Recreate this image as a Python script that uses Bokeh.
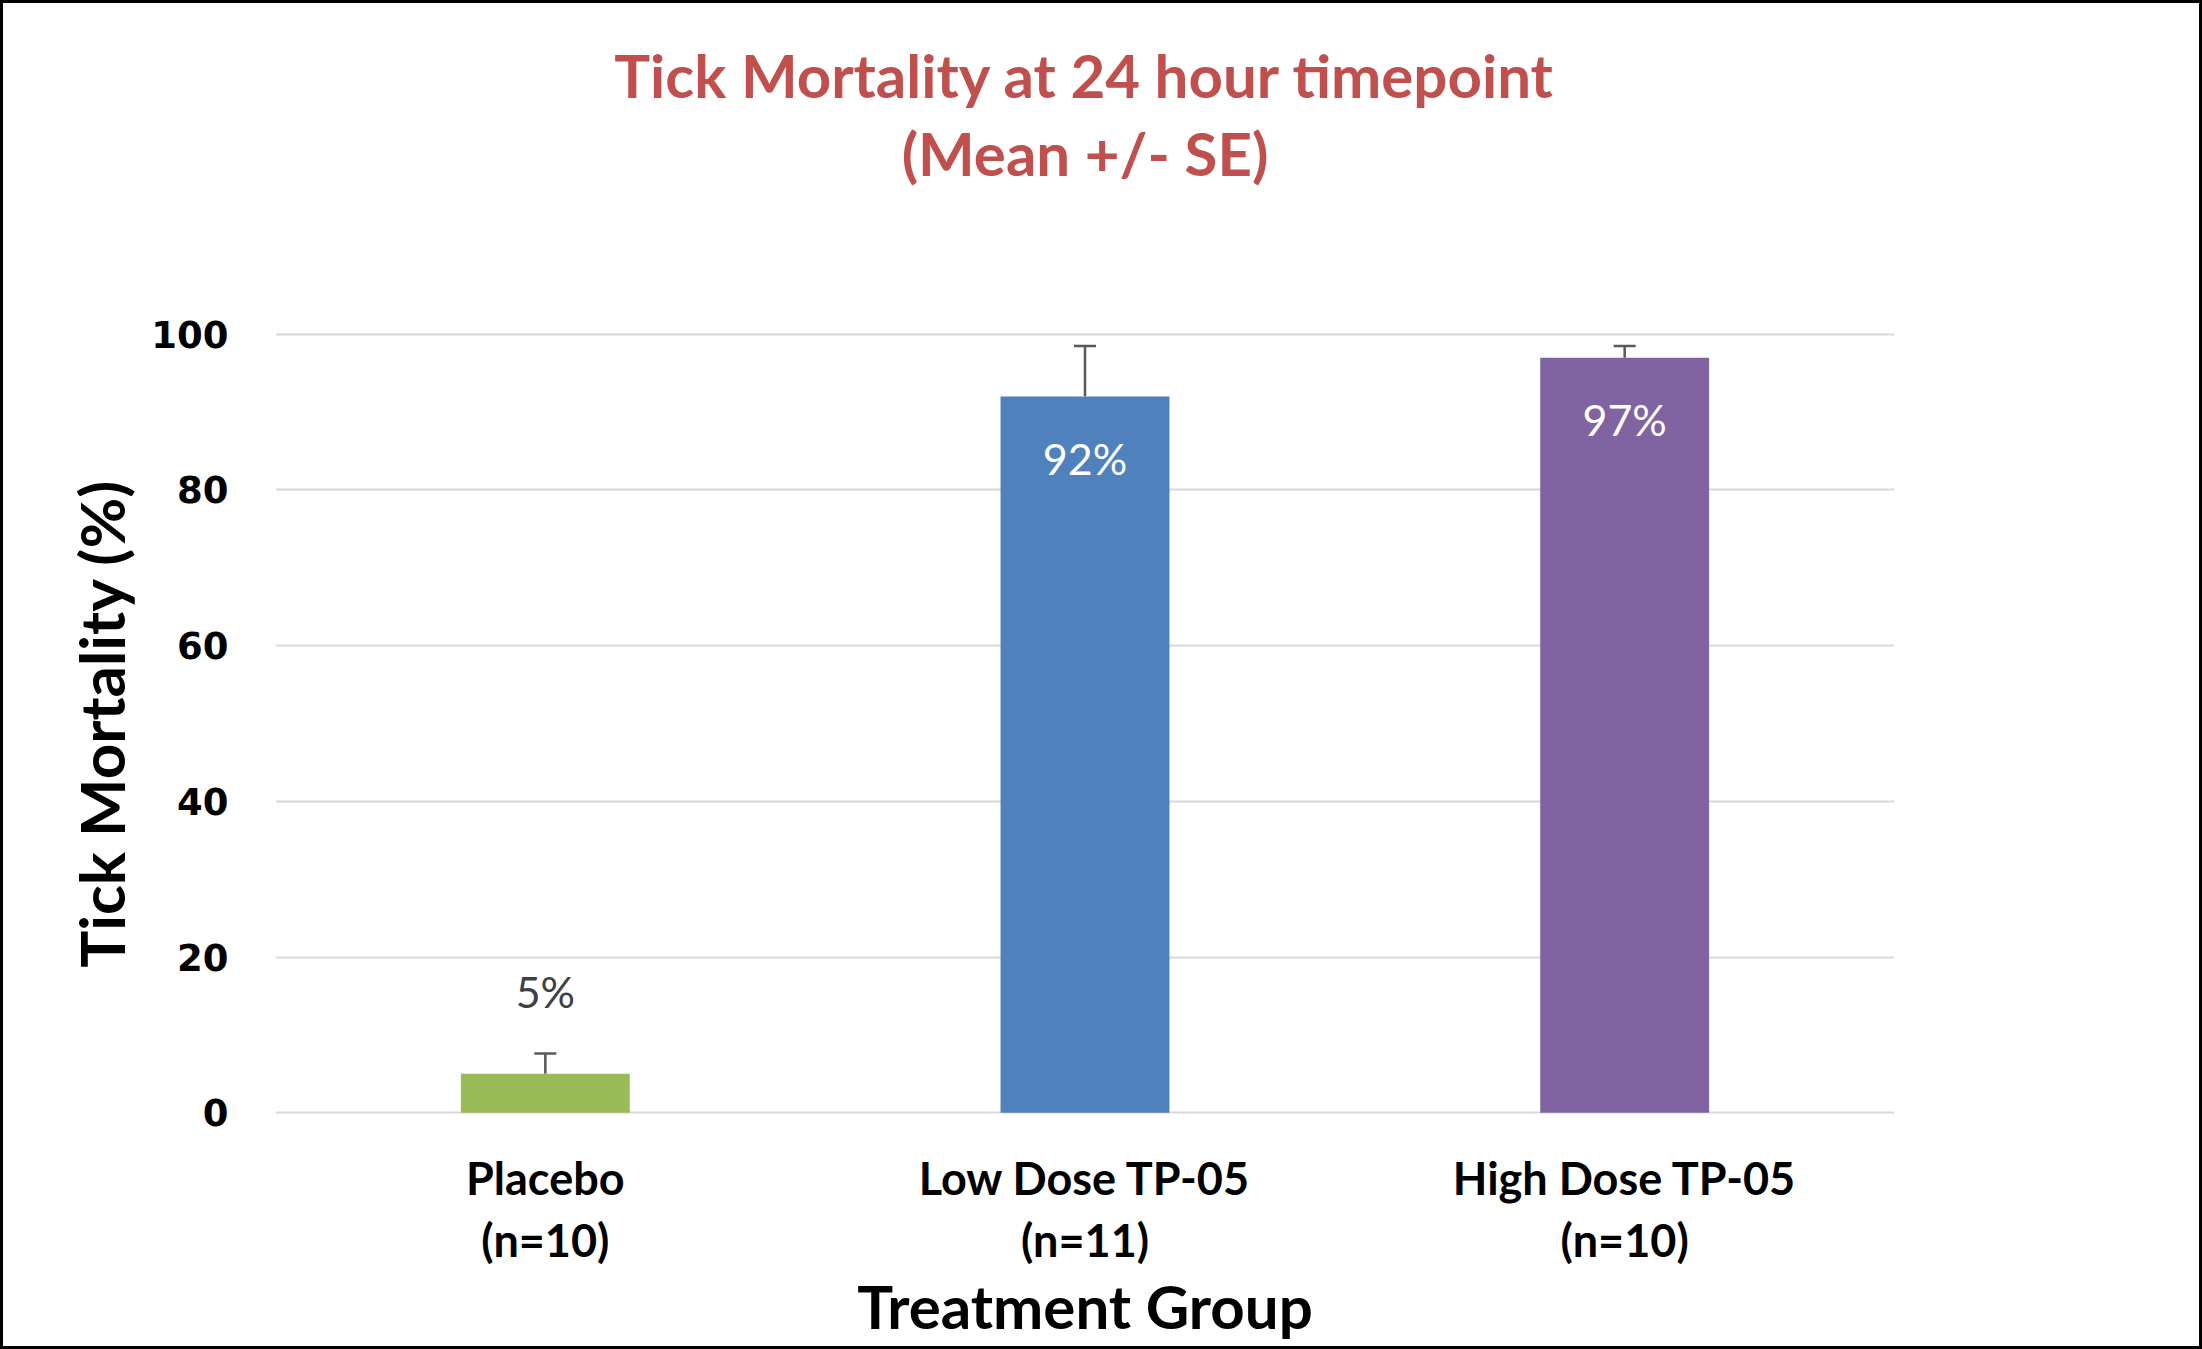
import numpy as np
from bokeh.plotting import figure
from bokeh.models import (ColumnDataSource, Range1d, FixedTicker, Whisker, TeeHead,
                          CategoricalAxis, FactorRange, InlineStyleSheet)
from bokeh.core.properties import value
from bokeh.embed import file_html
from bokeh.resources import INLINE

# ---- data ----
groups = ["Placebo", "Low Dose TP-05", "High Dose TP-05"]
n_sizes = ["(n=10)", "(n=11)", "(n=10)"]
mortality = [5, 92, 97]
se = [2.6, 6.5, 1.5]
bar_labels = ["5%", "92%", "97%"]
y_ticks = [0, 20, 40, 60, 80, 100]
title_line1 = "Tick Mortality at 24 hour timepoint"
title_line2 = "(Mean +/- SE)"
x_title = "Treatment Group"
y_title = "Tick Mortality (%)"

bar_colors = ["#9BBB59", "#4F81BD", "#8064A2"]

cats = [f"{g}\n{n}" for g, n in zip(groups, n_sizes)]
vals = np.array(mortality, dtype=float)
errs = np.array(se, dtype=float)
inside = vals > 50
label_colors = ["#FFFFFF" if i else "#404040" for i in inside]
label_offsets = [62 if i else -82 for i in inside]

src = ColumnDataSource(dict(
    x=cats, top=vals, lower=vals, upper=vals + errs, color=bar_colors,
    label=bar_labels, lcolor=label_colors, loff=label_offsets,
))

W, H = 2202, 1349
ML, MR, MT, MB = 275, 308, 326, 229
p = figure(x_range=cats, y_range=Range1d(-1, 101), width=W, height=H,
           output_backend="svg", toolbar_location=None, title=None,
           min_border_left=ML, min_border_right=MR,
           min_border_top=MT, min_border_bottom=MB)
p.outline_line_color = None
p.background_fill_color = "white"
p.border_fill_color = "white"
p.stylesheets = [InlineStyleSheet(css="""
:host { position: relative; }
:host::after {
  content: ""; position: absolute; left: 0; top: 0; right: 0; bottom: 0;
  border: 3px solid #000; box-sizing: border-box; pointer-events: none; z-index: 1000;
}
""")]

FONT = "Lato"

# two-line chart title, each line centred (single-factor axis above the frame)
title_text = title_line1 + "\n" + title_line2
p.extra_x_ranges = {"title": FactorRange(factors=[title_text])}
title_axis = CategoricalAxis(x_range_name="title")
title_axis.axis_line_color = None
title_axis.major_tick_line_color = None
title_axis.minor_tick_line_color = None
title_axis.major_label_text_font = FONT
title_axis.major_label_text_font_style = "bold"
title_axis.major_label_text_font_size = "60px"
title_axis.major_label_text_color = "#C0504D"
title_axis.major_label_text_line_height = 1.07
title_axis.major_label_standoff = 132
p.add_layout(title_axis, "above")

# grid
p.xgrid.grid_line_color = None
p.ygrid.grid_line_color = "#D9D9D9"
p.ygrid.grid_line_width = 2
p.yaxis.ticker = FixedTicker(ticks=y_ticks)

# y axis
p.yaxis.axis_line_color = None
p.yaxis.major_tick_line_color = None
p.yaxis.minor_tick_line_color = None
p.yaxis.major_label_text_font = "DejaVu Sans"
p.yaxis.major_label_text_font_style = "bold"
p.yaxis.major_label_text_font_size = "37px"
p.yaxis.major_label_text_color = "black"
p.yaxis.major_label_standoff = 41
p.yaxis.axis_label = y_title
p.yaxis.axis_label_text_font = FONT
p.yaxis.axis_label_text_font_style = "bold"
p.yaxis.axis_label_text_font_size = "62px"
p.yaxis.axis_label_text_color = "black"
p.yaxis.axis_label_standoff = 10

# x axis
xax = p.below[0]
xax.axis_line_color = None
xax.major_tick_line_color = None
xax.minor_tick_line_color = None
xax.major_label_text_font = FONT
xax.major_label_text_font_style = "bold"
xax.major_label_text_font_size = "45px"
xax.major_label_text_color = "black"
xax.major_label_text_line_height = 1.15
xax.major_label_standoff = 24
xax.axis_label = x_title
xax.axis_label_text_font = FONT
xax.axis_label_text_font_style = "bold"
xax.axis_label_text_font_size = "60px"
xax.axis_label_text_color = "black"
xax.axis_label_standoff = 0

# bars
p.vbar(x="x", top="top", width=0.313, fill_color="color", line_color=None, source=src)

# error bars
err = Whisker(base="x", lower="lower", upper="upper", source=src,
              line_color="#595959", line_width=2.5,
              upper_head=TeeHead(size=22, line_color="#595959", line_width=2.5),
              lower_head=None)
p.add_layout(err)

# data labels
p.text(x="x", y="top", text="label", source=src, text_color="lcolor",
       text_font=value(FONT), text_font_size="43px", text_align="center",
       text_baseline="middle", y_offset="loff")

open("out.html", "w").write(file_html(p, INLINE))
